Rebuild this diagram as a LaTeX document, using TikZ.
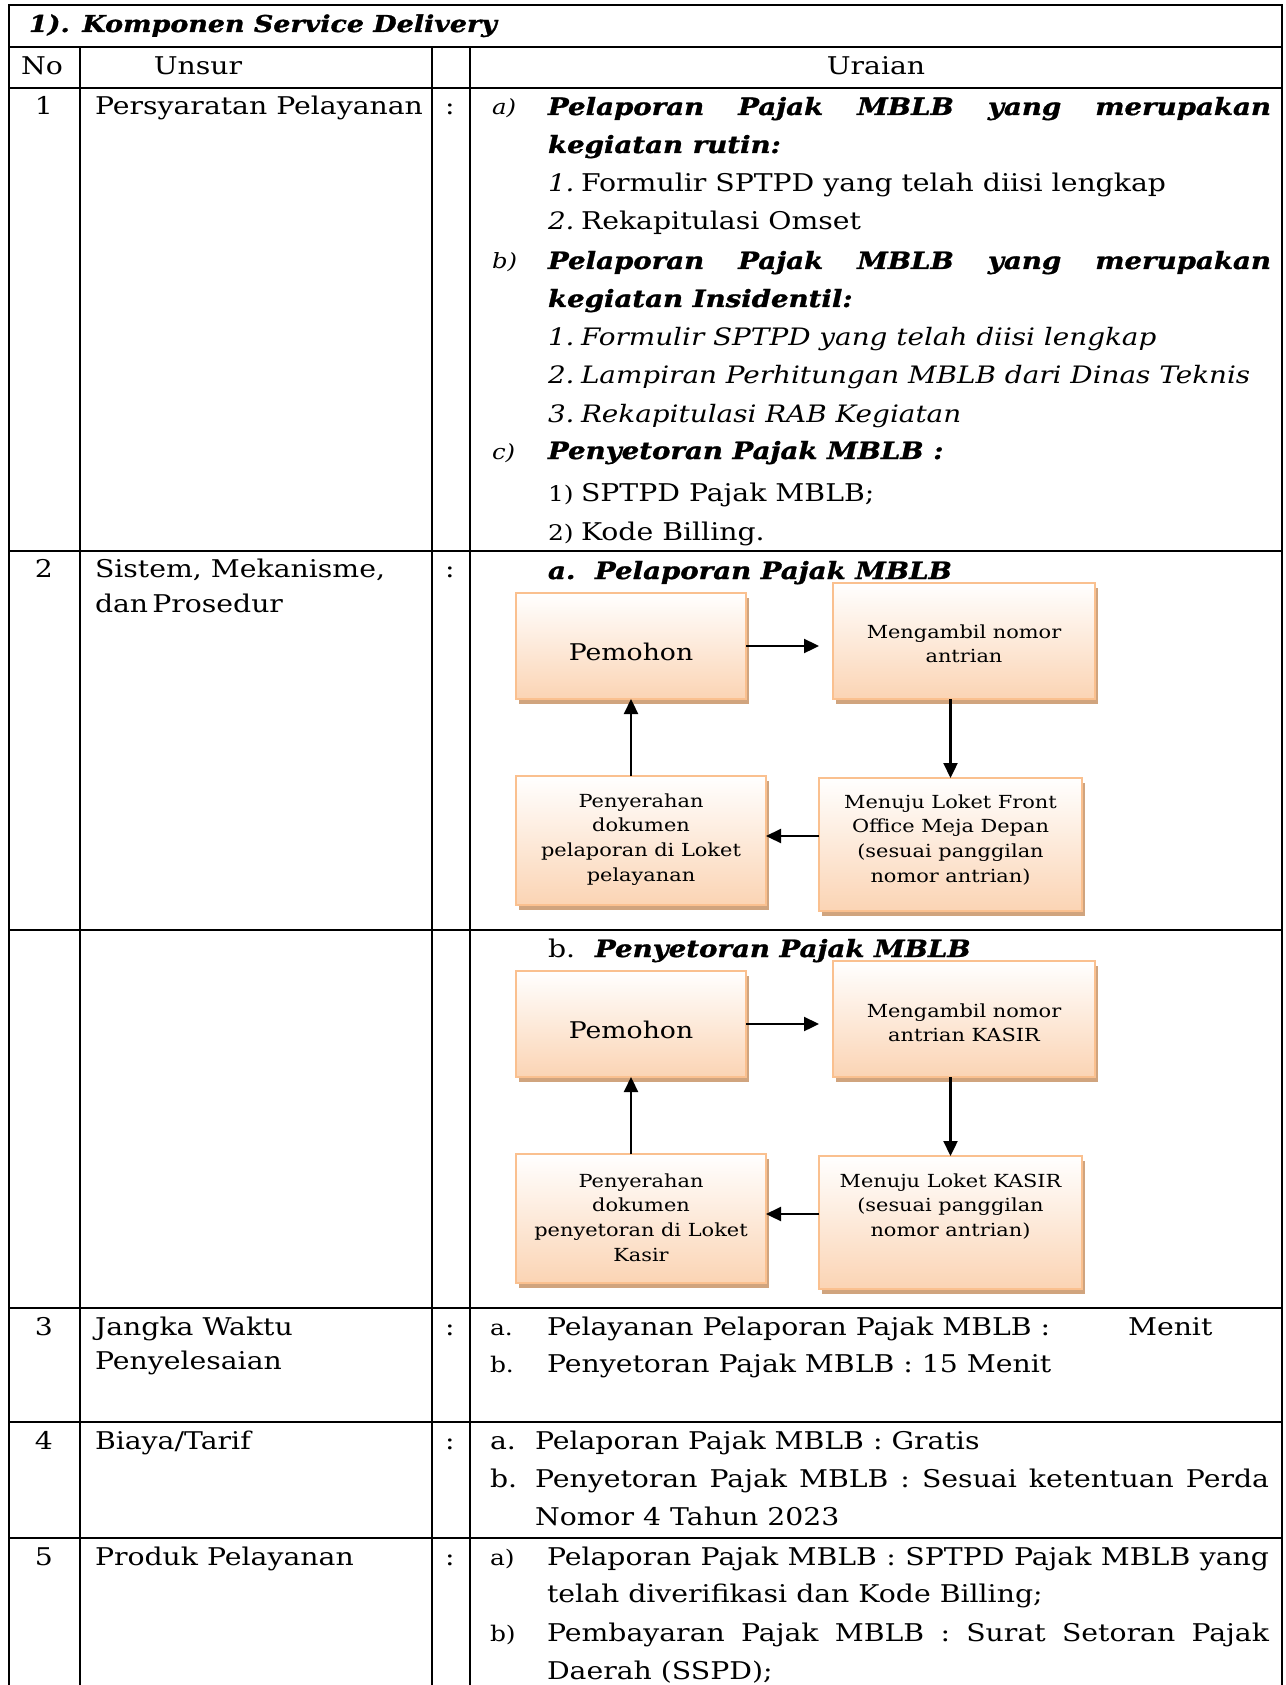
\documentclass[tikz,border=0pt]{standalone}
\usepackage{fontspec}
\setmainfont{DejaVu Serif}[FakeStretch=1.16, BoldItalicFeatures={FakeBold=1.2}]
\usetikzlibrary{arrows.meta,calc}
\definecolor{boxb}{RGB}{250,192,143}
\definecolor{boxf}{RGB}{251,212,180}
\definecolor{boxs}{RGB}{208,164,126}
\newcommand\stk[1]{\begin{tabular}[t]{@{}c@{}}#1\end{tabular}}
\begin{document}
\begin{tikzpicture}[x=1pt,y=-1pt,
  tx/.style={anchor=base west, inner sep=0pt, outer sep=0pt, font=\fontsize{24.4}{28}\selectfont},
  tc/.style={tx, anchor=base},
  ti/.style={tx, font=\fontsize{24}{28}\selectfont\itshape},
  tb/.style={tx, font=\fontsize{23.8}{28}\selectfont\bfseries\itshape},
  tl/.style={tx, font=\fontsize{21}{28}\selectfont\itshape},
  tn/.style={tx, font=\fontsize{21.5}{28}\selectfont},
  grid/.style={line width=1.5pt, line cap=rect},
  flow/.style={draw=boxb, line width=2pt, top color=white, bottom color=boxf, middle color=boxf!50!white,
    preaction={fill=boxs, transform canvas={xshift=3pt,yshift=-5pt}}, inner sep=0pt, outer sep=0pt},
  ftx/.style={anchor=base, inner sep=0pt, font=\fontsize{18}{24.7}\selectfont},
  arr/.style={line width=2.3pt, -{Triangle[length=15pt,width=14pt]}}]
\useasboundingbox (0,0) rectangle (1285,1685);
\fill[white] (0,0) rectangle (1285,1685);
% table grid
\draw[grid] (9,1685) -- (9,5) -- (1282,5) -- (1282,1685);
\foreach \yy in {47,88,551,930,1308,1422,1538} \draw[grid] (9,\yy) -- (1282,\yy);
\foreach \xx in {80,432,470} \draw[grid] (\xx,47) -- (\xx,1685);
% title and header
\node[tb, font=\fontsize{23.2}{28}\selectfont\bfseries\itshape] (title) at (29,32) {1). Komponen Service Delivery};
\node[tx] (hno) at (21,75) {No};
\node[tc] (hun) at (198,75) {Unsur};
\node[tc] (hur) at (876,75) {Uraian};
% row 1
\node[tc] (n1) at (44,115) {1};
\node[tx] (u1) at (95,115) {Persyaratan Pelayanan};
\node[tc] (c1) at (450,115) {:};
\node[tl] (r1a) at (492,115) {a)};
\node[tb] (r1a1) at (548,115) {\makebox[723pt][s]{Pelaporan Pajak MBLB yang merupakan}};
\node[tb] (r1a2) at (548,153) {kegiatan rutin:};
\node[ti] (r1a3n) at (548,192) {1.};
\node[tx] (r1a3) at (581,192) {Formulir SPTPD yang telah diisi lengkap};
\node[ti] (r1a4n) at (548,230) {2.};
\node[tx] (r1a4) at (581,230) {Rekapitulasi Omset};
\node[tl] (r1b) at (492,269) {b)};
\node[tb] (r1b1) at (548,269) {\makebox[723pt][s]{Pelaporan Pajak MBLB yang merupakan}};
\node[tb] (r1b2) at (548,307) {kegiatan Insidentil:};
\node[ti] (r1b3n) at (548,345) {1.};
\node[ti] (r1b3) at (581,345) {Formulir SPTPD yang telah diisi lengkap};
\node[ti] (r1b4n) at (548,383) {2.};
\node[ti] (r1b4) at (581,383) {Lampiran Perhitungan MBLB dari Dinas Teknis};
\node[ti] (r1b5n) at (548,422) {3.};
\node[ti] (r1b5) at (581,422) {Rekapitulasi RAB Kegiatan};
\node[tl] (r1c) at (492,459) {c)};
\node[tb] (r1c1) at (548,459) {Penyetoran Pajak MBLB :};
\node[tn] (r1c2n) at (548,501) {1)};
\node[tx] (r1c2) at (581,501) {SPTPD Pajak MBLB;};
\node[tn] (r1c3n) at (548,540) {2)};
\node[tx] (r1c3) at (581,540) {Kode Billing.};
% row 2
\node[tc] (n2) at (44,577) {2};
\node[tx] (u2a) at (95,577) {Sistem, Mekanisme,};
\node[tx] (u2b) at (95,612) {dan\,Prosedur};
\node[tc] (c2) at (450,577) {:};
\node[tb] (h2an) at (548,579) {a.};
\node[tb] (h2a) at (595,579) {Pelaporan Pajak MBLB};
\node[tx] (h2bn) at (548,957) {b.};
\node[tb] (h2b) at (595,957) {Penyetoran Pajak MBLB};
% flow a
\node[flow, minimum width=230pt, minimum height=106pt] (pemA) at (631,646) {};
\node[flow, minimum width=262pt, minimum height=116pt] (menA) at (964,641) {};
\node[flow, minimum width=250pt, minimum height=129pt] (penA) at (641,840.5) {};
\node[flow, minimum width=263pt, minimum height=133pt] (menuA) at (950.5,844.5) {};
\node[ftx, font=\fontsize{23}{28}\selectfont] (tpemA) at (631,660) {Pemohon};
\node[ftx] (tmenA) at (964,638) {\stk{Mengambil nomor\\antrian}};
\node[ftx] (tpenA) at (641,807) {\stk{Penyerahan\\dokumen\\pelaporan di Loket\\pelayanan}};
\node[ftx] (tmenuA) at (950.5,808) {\stk{Menuju Loket Front\\Office Meja Depan\\(sesuai panggilan\\nomor antrian)}};
\draw[arr] (pemA.east) -- ($(pemA.east -| menA.west)+(-14,0)$);
\draw[arr] (menA.south -| menuA.north) -- (menuA.north);
\draw[arr] ($(menuA.west |- penA.east)+(0,-4.5)$) -- ($(penA.east)+(0,-4.5)$);
\draw[arr] (penA.north -| pemA.south) -- (pemA.south);
% flow b
\node[flow, minimum width=230pt, minimum height=106pt] (pemB) at (631,1024) {};
\node[flow, minimum width=262pt, minimum height=116pt] (menB) at (964,1019) {};
\node[flow, minimum width=250pt, minimum height=129pt] (penB) at (641,1218.5) {};
\node[flow, minimum width=263pt, minimum height=133pt] (menuB) at (950.5,1222.5) {};
\node[ftx, font=\fontsize{23}{28}\selectfont] (tpemB) at (631,1038) {Pemohon};
\node[ftx] (tmenB) at (964,1017) {\stk{Mengambil nomor\\antrian KASIR}};
\node[ftx] (tpenB) at (641,1187) {\stk{Penyerahan\\dokumen\\penyetoran di Loket\\Kasir}};
\node[ftx] (tmenuB) at (950.5,1187) {\stk{Menuju Loket KASIR\\(sesuai panggilan\\nomor antrian)}};
\draw[arr] (pemB.east) -- ($(pemB.east -| menB.west)+(-14,0)$);
\draw[arr] (menB.south -| menuB.north) -- (menuB.north);
\draw[arr] ($(menuB.west |- penB.east)+(0,-4.5)$) -- ($(penB.east)+(0,-4.5)$);
\draw[arr] (penB.north -| pemB.south) -- (pemB.south);
% row 3
\node[tc] (n3) at (44,1335) {3};
\node[tx] (u3a) at (95,1335) {Jangka Waktu};
\node[tx] (u3b) at (95,1369) {Penyelesaian};
\node[tc] (c3) at (450,1335) {:};
\node[tn] (r3an) at (490,1335) {a.};
\node[tx] (r3a) at (547,1335) {Pelayanan Pelaporan Pajak MBLB :};
\node[tx] (r3am) at (1128,1335) {Menit};
\node[tn] (r3bn) at (490,1372) {b.};
\node[tx] (r3b) at (547,1372) {Penyetoran Pajak MBLB : 15 Menit};
% row 4
\node[tc] (n4) at (44,1449) {4};
\node[tx] (u4) at (95,1449) {Biaya/Tarif};
\node[tc] (c4) at (450,1449) {:};
\node[tx] (r4an) at (490,1449) {a.};
\node[tx] (r4a) at (535,1449) {Pelaporan Pajak MBLB : Gratis};
\node[tx] (r4bn) at (490,1487) {b.};
\node[tx] (r4b) at (535,1487) {\makebox[734pt][s]{Penyetoran Pajak MBLB : Sesuai ketentuan Perda}};
\node[tx] (r4c) at (535,1525) {Nomor 4 Tahun 2023};
% row 5
\node[tc] (n5) at (44,1565) {5};
\node[tx] (u5) at (95,1565) {Produk Pelayanan};
\node[tc] (c5) at (450,1565) {:};
\node[tn] (r5an) at (490,1565) {a)};
\node[tx] (r5a) at (547,1565) {\makebox[722pt][s]{Pelaporan Pajak MBLB : SPTPD Pajak MBLB yang}};
\node[tx] (r5a2) at (547,1602) {telah diverifikasi dan Kode Billing;};
\node[tn] (r5bn) at (490,1641) {b)};
\node[tx] (r5b) at (547,1641) {\makebox[722pt][s]{Pembayaran Pajak MBLB : Surat Setoran Pajak}};
\node[tx] (r5b2) at (547,1679) {Daerah (SSPD);};
\end{tikzpicture}
\end{document}
